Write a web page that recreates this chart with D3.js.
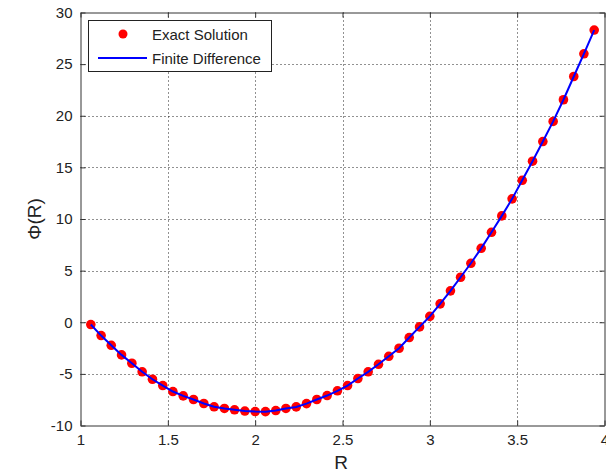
<!DOCTYPE html>
<html>
<head>
<meta charset="utf-8">
<title>Exact Solution vs Finite Difference</title>
<script src="https://d3js.org/d3.v7.min.js"></script>
<style>
  body { margin: 0; background: #fff; }
  text { font-family: "Liberation Sans", Arial, sans-serif; fill: #222; }
</style>
</head>
<body>
<svg id="chart" width="606" height="474"></svg>
<script>
// grid points R (interior nodes)
var rValues = [1.059, 1.118, 1.176, 1.235, 1.294, 1.353, 1.412, 1.471, 1.529, 1.588,
               1.647, 1.706, 1.765, 1.824, 1.882, 1.941, 2.000, 2.059, 2.118, 2.176,
               2.235, 2.294, 2.353, 2.412, 2.471, 2.529, 2.588, 2.647, 2.706, 2.765,
               2.824, 2.882, 2.941, 3.000, 3.059, 3.118, 3.176, 3.235, 3.294, 3.353,
               3.412, 3.471, 3.529, 3.588, 3.647, 3.706, 3.765, 3.824, 3.882, 3.941];

// exact solution (red dots)
var exactValues = [-0.22, -1.29, -2.23, -3.16, -3.97, -4.80, -5.52, -6.13, -6.71, -7.13,
                   -7.48, -7.87, -8.19, -8.35, -8.48, -8.60, -8.65, -8.66, -8.55, -8.35,
                   -8.20, -7.88, -7.48, -7.10, -6.64, -6.13, -5.45, -4.80, -4.07, -3.30,
                   -2.52, -1.48, -0.45, 0.57, 1.78, 3.04, 4.36, 5.71, 7.16, 8.71,
                   10.30, 11.95, 13.75, 15.60, 17.50, 19.45, 21.55, 23.80, 26.00, 28.30];

// finite difference (blue line)
var fdValues = [-0.22, -1.29, -2.23, -3.16, -3.97, -4.80, -5.52, -6.13, -6.71, -7.13,
                -7.48, -7.87, -8.19, -8.35, -8.48, -8.60, -8.65, -8.66, -8.55, -8.35,
                -8.20, -7.88, -7.48, -7.10, -6.64, -6.13, -5.45, -4.80, -4.07, -3.30,
                -2.52, -1.48, -0.45, 0.57, 1.78, 3.04, 4.36, 5.71, 7.16, 8.71,
                10.30, 11.95, 13.75, 15.60, 17.50, 19.45, 21.55, 23.80, 26.00, 28.30];

var xTicks = [1, 1.5, 2, 2.5, 3, 3.5, 4];
var yTicks = [-10, -5, 0, 5, 10, 15, 20, 25, 30];
var legendLabels = ["Exact Solution", "Finite Difference"];

var svg = d3.select("#chart");
// plot box (named to avoid clashing with window.top)
var pL = 80.5, pR = 604.5, pT = 12.5, pB = 425.5;

var x = d3.scaleLinear().domain([1, 4]).range([pL, pR]);
var y = d3.scaleLinear().domain([-10, 30]).range([pB, pT]);

// grid lines (dotted)
svg.append("g").selectAll("line").data(xTicks.slice(1, -1)).enter().append("line")
  .attr("x1", function(d) { return Math.round(x(d)) + 0.5; })
  .attr("x2", function(d) { return Math.round(x(d)) + 0.5; })
  .attr("y1", pT).attr("y2", pB)
  .attr("stroke", "#222").attr("stroke-width", 1).attr("stroke-dasharray", "1,3");

svg.append("g").selectAll("line").data(yTicks.slice(1, -1)).enter().append("line")
  .attr("y1", function(d) { return Math.round(y(d)) + 0.5; })
  .attr("y2", function(d) { return Math.round(y(d)) + 0.5; })
  .attr("x1", pL).attr("x2", pR)
  .attr("stroke", "#222").attr("stroke-width", 1).attr("stroke-dasharray", "1,3");

// plain hyphen minus, like the original figure
var plain = function(d) { return String(d); };

// axes (inward ticks on all sides, like a boxed plot)
var xAxisB = d3.axisBottom(x).tickValues(xTicks).tickSizeInner(-5).tickSizeOuter(0).tickPadding(9)
  .tickFormat(plain);
var xAxisT = d3.axisTop(x).tickValues(xTicks).tickSizeInner(-5).tickSizeOuter(0).tickFormat("");
var yAxisL = d3.axisLeft(y).tickValues(yTicks).tickSizeInner(-5).tickSizeOuter(0).tickPadding(8)
  .tickFormat(plain);
var yAxisR = d3.axisRight(y).tickValues(yTicks).tickSizeInner(-5).tickSizeOuter(0).tickFormat("");

function styleAxis(g) {
  g.select(".domain").attr("stroke", "#333");
  g.selectAll(".tick line").attr("stroke", "#333");
  g.selectAll("text").attr("fill", "#222").style("font-size", "15px")
   .style("font-family", "'Liberation Sans', Arial, sans-serif");
}

svg.append("g").attr("transform", "translate(0," + pB + ")").call(xAxisB).call(styleAxis);
svg.append("g").attr("transform", "translate(0," + pT + ")").call(xAxisT).call(styleAxis);
svg.append("g").attr("transform", "translate(" + pL + ",0)").call(yAxisL).call(styleAxis);
svg.append("g").attr("transform", "translate(" + pR + ",0)").call(yAxisR).call(styleAxis);

// axis labels
svg.append("text").attr("x", 341).attr("y", 469).attr("text-anchor", "middle")
  .style("font-size", "19px").text("R");
svg.append("text").attr("transform", "translate(41,219) rotate(-90)").attr("text-anchor", "middle")
  .style("font-size", "19px").text("Φ(R)");

// data
var points = rValues.map(function(r, i) { return { r: r, exact: exactValues[i], fd: fdValues[i] }; });

svg.append("g").selectAll("circle").data(points).enter().append("circle")
  .attr("cx", function(d) { return x(d.r); })
  .attr("cy", function(d) { return y(d.exact); })
  .attr("r", 4.8)
  .attr("fill", "#ff0000");

var line = d3.line()
  .x(function(d) { return x(d.r); })
  .y(function(d) { return y(d.fd); });

svg.append("path").datum(points)
  .attr("d", line)
  .attr("fill", "none")
  .attr("stroke", "#0000ff")
  .attr("stroke-width", 2);

// legend
var legend = svg.append("g");
legend.append("rect").attr("x", 88.5).attr("y", 20.5).attr("width", 183).attr("height", 51)
  .attr("fill", "#fff").attr("stroke", "#222");
legend.append("circle").attr("cx", 123).attr("cy", 34).attr("r", 4.5).attr("fill", "#ff0000");
legend.append("line").attr("x1", 98).attr("x2", 147).attr("y1", 58).attr("y2", 58)
  .attr("stroke", "#0000ff").attr("stroke-width", 2);
legend.selectAll("text.lab").data(legendLabels).enter().append("text")
  .attr("class", "lab")
  .attr("x", 152)
  .attr("y", function(d, i) { return 39.5 + i * 24; })
  .style("font-size", "15px")
  .text(function(d) { return d; });
</script>
</body>
</html>
